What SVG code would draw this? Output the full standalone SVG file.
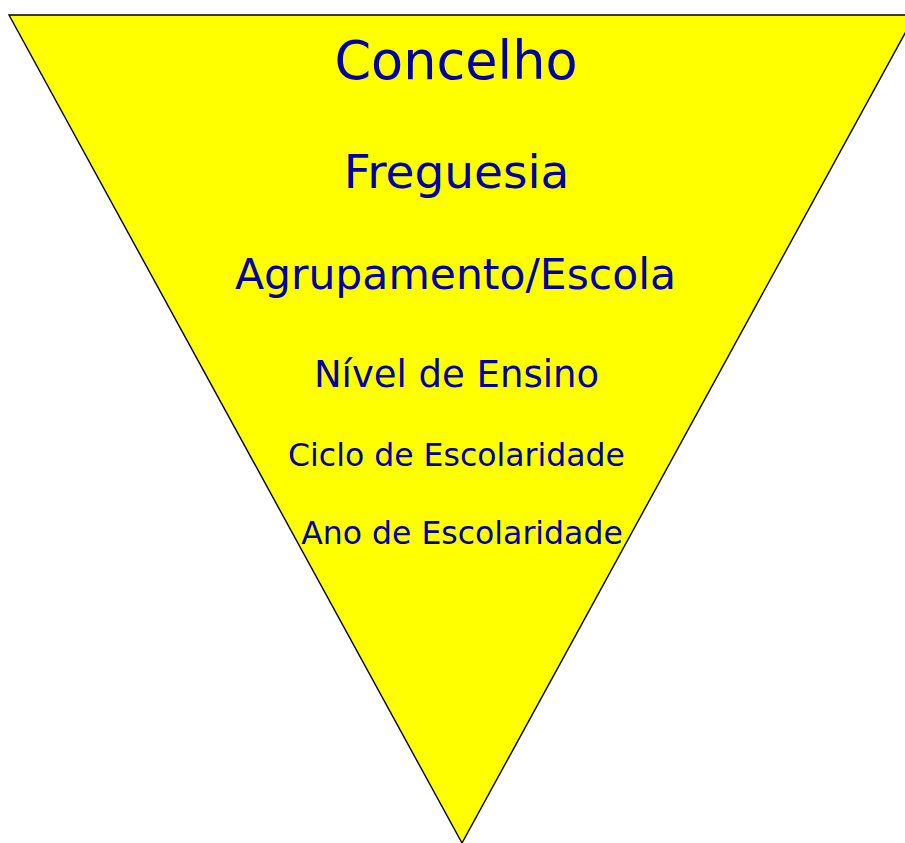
<svg xmlns="http://www.w3.org/2000/svg" width="905" height="843" viewBox="0 0 905 843">
<style>
.t{font-family:"DejaVu Sans",Verdana,sans-serif;fill:#0000a0;text-anchor:middle}
</style>
<rect width="905" height="843" fill="#ffffff"/>
<g id="triangle">
<polygon points="9,15 915,15 462,843" fill="#ffff00" stroke="#000000" stroke-width="1.4"/>
</g>
<g id="concelho"><text class="t" x="456" y="79" font-size="52.5">Concelho</text></g>
<g id="freguesia"><text class="t" x="456.5" y="188" font-size="47">Freguesia</text></g>
<g id="agrupamento"><text class="t" x="455.5" y="289" font-size="42.5">Agrupamento/Escola</text></g>
<g id="nivel"><text class="t" x="456.5" y="387" font-size="37">Nível de Ensino</text></g>
<g id="ciclo"><text class="t" x="456.5" y="466" font-size="31.5">Ciclo de Escolaridade</text></g>
<g id="ano"><text class="t" x="462" y="544" font-size="31.5">Ano de Escolaridade</text></g>
<g id="connectors"></g>
</svg>
